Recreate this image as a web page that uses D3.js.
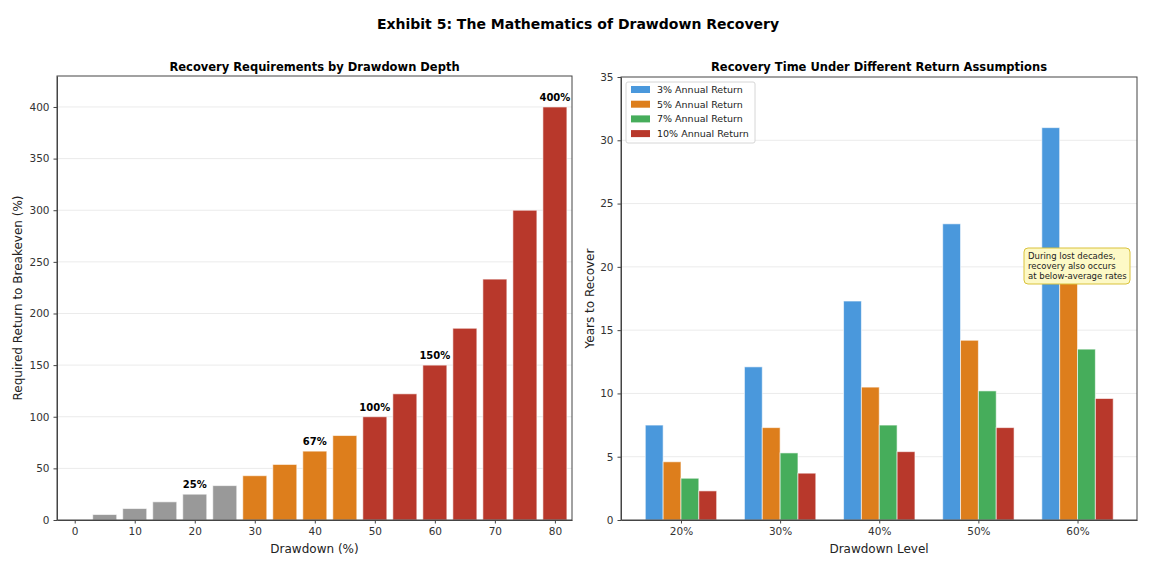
<!DOCTYPE html>
<html>
<head>
<meta charset="utf-8">
<script src="https://cdn.jsdelivr.net/npm/d3@7"></script>
<style>
  body { margin: 0; background: #fff; }
  svg { font-family: "DejaVu Sans", sans-serif; }
  .axis text { fill: #333; font-size: 10.5px; font-family: "DejaVu Sans", sans-serif; }
  .axis path, .axis line { stroke: #444; }
</style>
</head>
<body>
<svg id="vis" width="1157" height="570"></svg>
<script>
// left panel data
var drawdowns = [0, 5, 10, 15, 20, 25, 30, 35, 40, 45, 50, 55, 60, 65, 70, 75, 80];
var requiredReturn = [0, 5.3, 11.1, 17.6, 25, 33.3, 42.9, 53.8, 66.7, 81.8, 100, 122.2, 150, 185.7, 233.3, 300, 400];
var labelledDrawdowns = [20, 40, 50, 60, 80];
var leftYTicks = [0, 50, 100, 150, 200, 250, 300, 350, 400];
var leftXTicks = [0, 10, 20, 30, 40, 50, 60, 70, 80];

// right panel data
var levels = ["20%", "30%", "40%", "50%", "60%"];
var seriesNames = ["3% Annual Return", "5% Annual Return", "7% Annual Return", "10% Annual Return"];
var years3 = [7.5, 12.1, 17.3, 23.4, 31.0];
var years5 = [4.6, 7.3, 10.5, 14.2, 18.8];
var years7 = [3.3, 5.3, 7.5, 10.2, 13.5];
var years10 = [2.3, 3.7, 5.4, 7.3, 9.6];
var rightYTicks = [0, 5, 10, 15, 20, 25, 30, 35];

var seriesColors = ["#4a98dc", "#dd7e1c", "#46ad5b", "#b8382b"];
var series = [years3, years5, years7, years10];

var svg = d3.select('#vis');

svg.append('text')
    .attr('x', 578).attr('y', 29)
    .attr('text-anchor', 'middle')
    .style('font-size', '14px').style('font-weight', 'bold')
    .text('Exhibit 5: The Mathematics of Drawdown Recovery');

function barColor(d) {
    if (d >= 50) return "#b8382b";
    if (d >= 30) return "#dd7e1c";
    return "#999999";
}

// ---------- left panel ----------
var L = {l: 57, r: 572, t: 76, b: 520};

var x1 = d3.scaleLinear().domain([-2.95, 82.85]).range([L.l, L.r]);
var y1 = d3.scaleLinear().domain([0, 430]).range([L.b, L.t]);

var left = svg.append('g').attr('class', 'left');

left.selectAll('.grid')
    .data(leftYTicks.slice(1))
    .enter().append('line')
    .attr('x1', L.l).attr('x2', L.r)
    .attr('y1', function(d){ return y1(d); })
    .attr('y2', function(d){ return y1(d); })
    .attr('stroke', '#ebebeb').attr('stroke-width', 1);

left.selectAll('.bar')
    .data(drawdowns)
    .enter().append('rect')
    .attr('class', 'bar')
    .attr('x', function(d){ return x1(d - 2); })
    .attr('width', x1(4) - x1(0))
    .attr('y', function(d, i){ return y1(requiredReturn[i]); })
    .attr('height', function(d, i){ return L.b - y1(requiredReturn[i]); })
    .attr('fill', function(d){ return barColor(d); })
    .attr('stroke', '#fff').attr('stroke-opacity', 0.6).attr('stroke-width', 1);

left.selectAll('.bar-label')
    .data(labelledDrawdowns)
    .enter().append('text')
    .attr('class', 'bar-label')
    .attr('x', function(d){ return x1(d); })
    .attr('y', function(d){ return y1(requiredReturn[drawdowns.indexOf(d)]) - 6; })
    .attr('text-anchor', 'middle')
    .style('font-size', '10px').style('font-weight', 'bold')
    .text(function(d){ return Math.round(requiredReturn[drawdowns.indexOf(d)]) + '%'; });

left.append('g')
    .attr('class', 'axis')
    .attr('transform', 'translate(0,' + L.b + ')')
    .call(d3.axisBottom(x1).tickValues(leftXTicks).tickSize(3.5).tickPadding(4).tickSizeOuter(0));

left.append('g')
    .attr('class', 'axis')
    .attr('transform', 'translate(' + L.l + ',0)')
    .call(d3.axisLeft(y1).tickValues(leftYTicks).tickSize(3.5).tickPadding(4).tickSizeOuter(0));

left.append('rect')
    .attr('x', L.l).attr('y', L.t)
    .attr('width', L.r - L.l).attr('height', L.b - L.t)
    .attr('fill', 'none').attr('stroke', '#444').attr('stroke-width', 1);

left.append('text')
    .attr('x', (L.l + L.r) / 2).attr('y', 71)
    .attr('text-anchor', 'middle')
    .style('font-size', '11.5px').style('font-weight', 'bold')
    .text('Recovery Requirements by Drawdown Depth');

left.append('text')
    .attr('x', (L.l + L.r) / 2).attr('y', 553)
    .attr('text-anchor', 'middle')
    .style('font-size', '12px').style('fill', '#222')
    .text('Drawdown (%)');

left.append('text')
    .attr('transform', 'rotate(-90)')
    .attr('x', -(L.t + L.b) / 2).attr('y', 22)
    .attr('text-anchor', 'middle')
    .style('font-size', '12px').style('fill', '#222')
    .text('Required Return to Breakeven (%)');

// ---------- right panel ----------
var R = {l: 621, r: 1137, t: 77, b: 520};

var x2 = d3.scaleLinear().domain([-0.605, 4.6]).range([R.l, R.r]);
var y2 = d3.scaleLinear().domain([0, 35]).range([R.b, R.t]);
var barW = 0.18;

var right = svg.append('g').attr('class', 'right');

right.selectAll('.grid')
    .data(rightYTicks.slice(1, -1))
    .enter().append('line')
    .attr('x1', R.l).attr('x2', R.r)
    .attr('y1', function(d){ return y2(d); })
    .attr('y2', function(d){ return y2(d); })
    .attr('stroke', '#ebebeb').attr('stroke-width', 1);

series.forEach(function(vals, s){
    right.selectAll('.bar-s' + s)
        .data(vals)
        .enter().append('rect')
        .attr('class', 'bar-s' + s)
        .attr('x', function(d, i){ return x2(i + (s - 1.5) * barW - barW / 2); })
        .attr('width', x2(barW) - x2(0))
        .attr('y', function(d){ return y2(d); })
        .attr('height', function(d){ return R.b - y2(d); })
        .attr('fill', seriesColors[s])
        .attr('stroke', '#fff').attr('stroke-opacity', 0.6).attr('stroke-width', 1);
});

right.append('g')
    .attr('class', 'axis')
    .attr('transform', 'translate(0,' + R.b + ')')
    .call(d3.axisBottom(x2).tickValues(d3.range(levels.length))
        .tickFormat(function(i){ return levels[i]; })
        .tickSize(3.5).tickPadding(4).tickSizeOuter(0));

right.append('g')
    .attr('class', 'axis')
    .attr('transform', 'translate(' + R.l + ',0)')
    .call(d3.axisLeft(y2).tickValues(rightYTicks).tickSize(3.5).tickPadding(4).tickSizeOuter(0));

right.append('rect')
    .attr('x', R.l).attr('y', R.t)
    .attr('width', R.r - R.l).attr('height', R.b - R.t)
    .attr('fill', 'none').attr('stroke', '#444').attr('stroke-width', 1);

right.append('text')
    .attr('x', (R.l + R.r) / 2).attr('y', 71)
    .attr('text-anchor', 'middle')
    .style('font-size', '11.5px').style('font-weight', 'bold')
    .text('Recovery Time Under Different Return Assumptions');

right.append('text')
    .attr('x', (R.l + R.r) / 2).attr('y', 553)
    .attr('text-anchor', 'middle')
    .style('font-size', '12px').style('fill', '#222')
    .text('Drawdown Level');

right.append('text')
    .attr('transform', 'rotate(-90)')
    .attr('x', -(R.t + R.b) / 2).attr('y', 594)
    .attr('text-anchor', 'middle')
    .style('font-size', '12px').style('fill', '#222')
    .text('Years to Recover');

// legend
var legend = right.append('g').attr('transform', 'translate(626,82)');
legend.append('rect')
    .attr('width', 129).attr('height', 61).attr('rx', 2)
    .attr('fill', '#fff').attr('fill-opacity', 0.8)
    .attr('stroke', '#d6d6d6');
seriesNames.forEach(function(name, s){
    legend.append('rect')
        .attr('x', 5).attr('y', 4 + s * 14.7)
        .attr('width', 19).attr('height', 7)
        .attr('fill', seriesColors[s]);
    legend.append('text')
        .attr('x', 31).attr('y', 11 + s * 14.7)
        .style('font-size', '9.5px').style('fill', '#222')
        .text(name);
});

// annotation
var note = right.append('g').attr('transform', 'translate(1024,248)');
note.append('rect')
    .attr('width', 106).attr('height', 36).attr('rx', 4)
    .attr('fill', '#fdf9c6').attr('stroke', '#d9c23c').attr('stroke-width', 1);
["During lost decades,", "recovery also occurs", "at below-average rates"].forEach(function(line, i){
    note.append('text')
        .attr('x', 4).attr('y', 11 + i * 10)
        .style('font-size', '8.5px').style('fill', '#222')
        .text(line);
});
</script>
</body>
</html>
